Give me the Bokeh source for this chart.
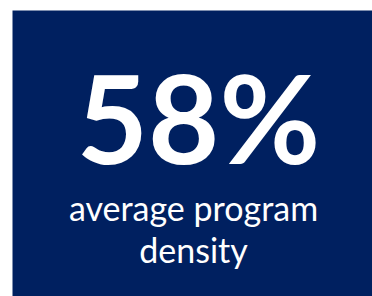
from bokeh.plotting import figure
from bokeh.models import Range1d, ColumnDataSource
from bokeh.core.properties import value
from bokeh.embed import file_html
from bokeh.resources import INLINE

kpi_value = ["58%"]
kpi_label = ["average program", "density"]

NAVY = "#002060"

p = figure(width=372, height=296, output_backend="svg", toolbar_location=None,
           x_range=Range1d(0, 360), y_range=Range1d(0, 286),
           min_border_left=12, min_border_top=10, min_border_right=0, min_border_bottom=0)
p.axis.visible = False
p.grid.visible = False
p.outline_line_color = None
p.background_fill_color = NAVY
p.border_fill_color = "white"

src_v = ColumnDataSource(dict(x=[186], y=[180], t=kpi_value))
p.text(x="x", y="y", text="t", source=src_v, text_color="white",
       text_font=value("Lato"), text_font_style="bold", text_font_size="123px",
       text_align="center", text_baseline="alphabetic")

src_l = ColumnDataSource(dict(x=[181, 181], y=[89, 47], t=kpi_label))
p.text(x="x", y="y", text="t", source=src_l, text_color="white",
       text_font=value("Lato"), text_font_size="34px",
       text_align="center", text_baseline="alphabetic")

open("out.html", "w").write(file_html(p, INLINE))
